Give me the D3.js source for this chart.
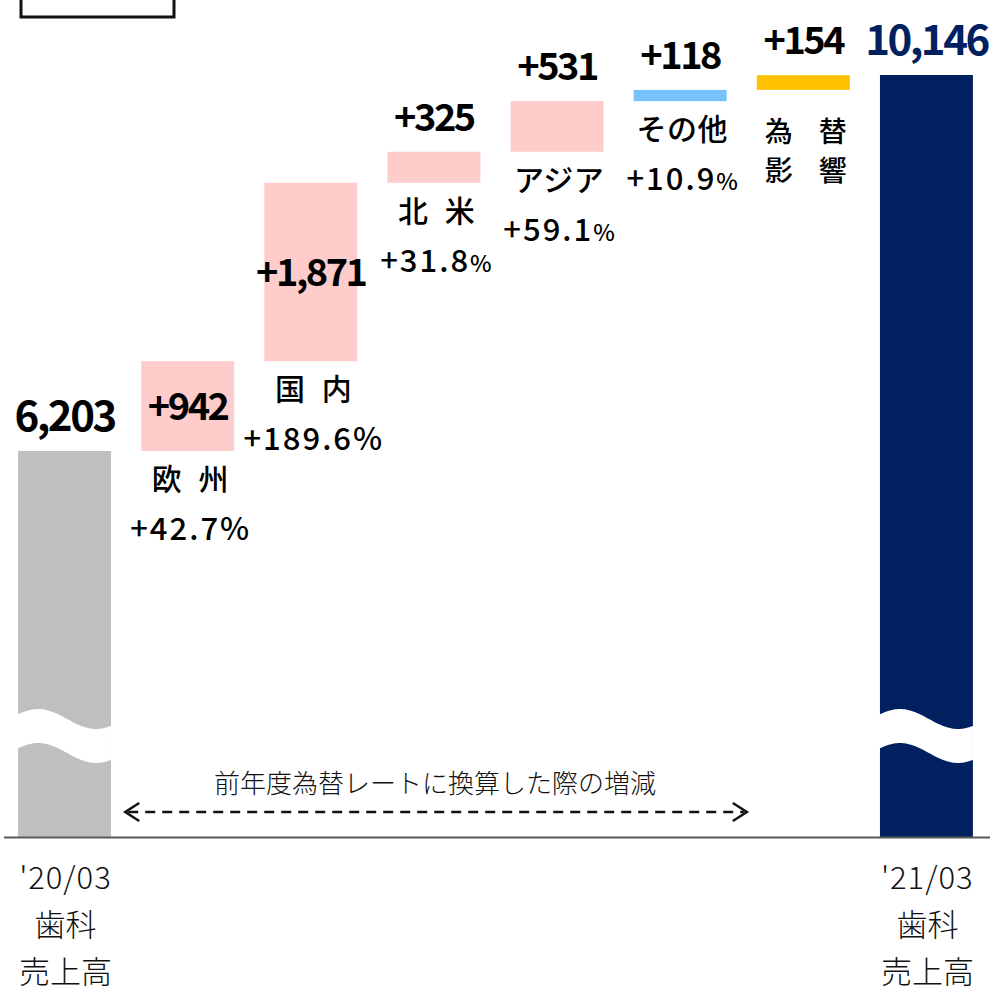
<!DOCTYPE html>
<html><head><meta charset="utf-8">
<script src="https://cdn.jsdelivr.net/npm/d3@7"></script>
<style>
html,body{margin:0;padding:0;background:#fff;}
svg{display:block;font-family:"Noto Sans CJK JP","Noto Sans",sans-serif;}
</style></head>
<body><svg id="chart" width="996" height="991"></svg>
<script>
// ---- data ----
const categories = ["start", "欧州", "国内", "北米", "アジア", "その他", "為替影響", "end"];
const startValue = 6203;
const endValue = 10146;
const deltaValues = [942, 1871, 325, 531, 118, 154];
const deltaLabels = [["欧 州"], ["国 内"], ["北 米"], ["アジア"], ["その他"], ["為　替", "影　響"]];
const growthMain = ["+42.7", "+189.6", "+31.8", "+59.1", "+10.9", ""];
const growthSmallPct = [false, false, true, true, true, false];
const startLabels = ["'20/03", "歯科", "売上高"];
const endLabels = ["'21/03", "歯科", "売上高"];
const noteText = "前年度為替レートに換算した際の増減";
const yDomain = [2155, 10146];

// ---- styles ----
const deltaColors = ["#ffcccc", "#ffcccc", "#ffcccc", "#ffcccc", "#77c2fa", "#ffc000"];
const startColor = "#bfbfbf", endColor = "#002060";

const svg = d3.select("#chart");
const baseY = 837;

const x = d3.scaleBand().domain(categories).range([3, 988]).paddingInner(0.245).paddingOuter(0.1225);
const y = d3.scaleLinear().domain(yDomain).range([baseY, 75]);
const bw = x.bandwidth();

// cumulative
let cum = startValue;
const deltas = deltaValues.map((v, i) => {
  const d = {cat: categories[i + 1], v, from: cum, to: cum + v, i};
  cum += v;
  return d;
});

// top-left box (partially visible)
svg.append("rect").attr("x", 21).attr("y", -12).attr("width", 153).attr("height", 29)
  .attr("fill", "#fff").attr("stroke", "#111").attr("stroke-width", 3);

// start / end bars
const ends = [
  {cat: "start", v: startValue, color: startColor, labels: startLabels, txtColor: "#000"},
  {cat: "end", v: endValue, color: endColor, labels: endLabels, txtColor: endColor}
];
svg.selectAll("rect.endbar").data(ends).join("rect").attr("class", "endbar")
  .attr("x", d => x(d.cat)).attr("width", bw)
  .attr("y", d => y(d.v)).attr("height", d => y(yDomain[0]) - y(d.v))
  .attr("fill", d => d.color);

// wave break
function wavePath(x0, x1) {
  const amp = 10, period = 116, c = 719, gap = 34;
  const f = xx => c - amp * Math.sin(2 * Math.PI * (xx - x0 + 9) / period);
  const pts = d3.range(x0 - 1, x1 + 1.01, 1);
  const top = pts.map(p => [p, f(p)]);
  const bot = pts.slice().reverse().map(p => [p, f(p) + gap]);
  return d3.line()(top.concat(bot)) + "Z";
}
ends.forEach(d => {
  svg.append("path").attr("d", wavePath(x(d.cat), x(d.cat) + bw)).attr("fill", "#fff");
});

// end value labels
svg.selectAll("text.endval").data(ends).join("text").attr("class", "endval")
  .attr("x", d => x(d.cat) + bw / 2).attr("y", d => y(d.v) - 20)
  .attr("text-anchor", "middle").attr("font-weight", 700).attr("font-size", 42)
  .attr("letter-spacing", -2.5).attr("fill", d => d.txtColor)
  .text(d => d3.format(",")(d.v));

// bottom labels
ends.forEach(d => {
  d.labels.forEach((s, k) => {
    svg.append("text").attr("text-anchor", "middle").attr("font-size", 31)
      .attr("font-weight", 300).attr("fill", "#111")
      .attr("x", x(d.cat) + bw / 2 + 1).attr("y", 889 + k * 47)
      .attr("letter-spacing", k === 0 ? 1 : 0).text(s);
  });
});

// delta bars
svg.selectAll("rect.delta").data(deltas).join("rect").attr("class", "delta")
  .attr("x", d => x(d.cat)).attr("width", bw)
  .attr("y", d => y(d.to)).attr("height", d => y(d.from) - y(d.to))
  .attr("fill", d => deltaColors[d.i]);

// delta value labels
svg.selectAll("text.dval").data(deltas).join("text").attr("class", "dval")
  .attr("x", d => x(d.cat) + bw / 2)
  .attr("y", d => {
    const h = y(d.from) - y(d.to);
    return h > 60 ? (y(d.from) + y(d.to)) / 2 + 14 : y(d.to) - 21;
  })
  .attr("text-anchor", "middle").attr("font-weight", 700).attr("font-size", 38)
  .attr("letter-spacing", -2.5).attr("fill", "#000")
  .text(d => "+" + d3.format(",")(d.v));

// category labels + growth
deltas.forEach(d => {
  const cx = x(d.cat) + bw / 2;
  const bottom = y(d.from);
  const lines = deltaLabels[d.i];
  const multi = lines.length > 1;
  const ly = multi ? bottom + 52 : bottom + 39;
  lines.forEach((s, k) => {
    const spaced = s.includes(" ");
    svg.append("text").attr("text-anchor", "middle")
      .attr("font-size", multi ? 28 : 30).attr("font-weight", 500).attr("fill", "#000")
      .attr("x", cx + (spaced ? 5 : 2)).attr("y", ly + k * 39)
      .attr("letter-spacing", multi ? -1 : (spaced ? 5 : 0.5)).text(s);
  });
  if (growthMain[d.i]) {
    const g = svg.append("text").attr("x", cx + 3).attr("y", ly + 50)
      .attr("text-anchor", "middle").attr("font-size", 31).attr("font-weight", 500)
      .attr("letter-spacing", 2).attr("fill", "#000");
    g.append("tspan").text(growthMain[d.i]);
    g.append("tspan").attr("font-size", growthSmallPct[d.i] ? 23 : 31).text("%");
  }
});

// note + dashed arrow
const ax0 = x("欧州") - 16, ax1 = x("為替影響") - 10;
const ay = 812;
svg.append("text").attr("x", (ax0 + ax1) / 2 - 1).attr("y", 793).attr("text-anchor", "middle")
  .attr("font-size", 26).attr("font-weight", 300).attr("fill", "#111").text(noteText);
svg.append("line").attr("x1", ax0 + 3).attr("x2", ax1 - 3).attr("y1", ay).attr("y2", ay)
  .attr("stroke", "#111").attr("stroke-width", 2.5).attr("stroke-dasharray", "10,7");
svg.append("path").attr("d", `M${ax0 + 14},${ay - 9}L${ax0},${ay}L${ax0 + 14},${ay + 9}`)
  .attr("fill", "none").attr("stroke", "#111").attr("stroke-width", 2.5);
svg.append("path").attr("d", `M${ax1 - 14},${ay - 9}L${ax1},${ay}L${ax1 - 14},${ay + 9}`)
  .attr("fill", "none").attr("stroke", "#111").attr("stroke-width", 2.5);

// baseline axis
svg.append("line").attr("x1", 4).attr("x2", 990).attr("y1", baseY + 0.5).attr("y2", baseY + 0.5)
  .attr("stroke", "#595959").attr("stroke-width", 2);
</script></body></html>
